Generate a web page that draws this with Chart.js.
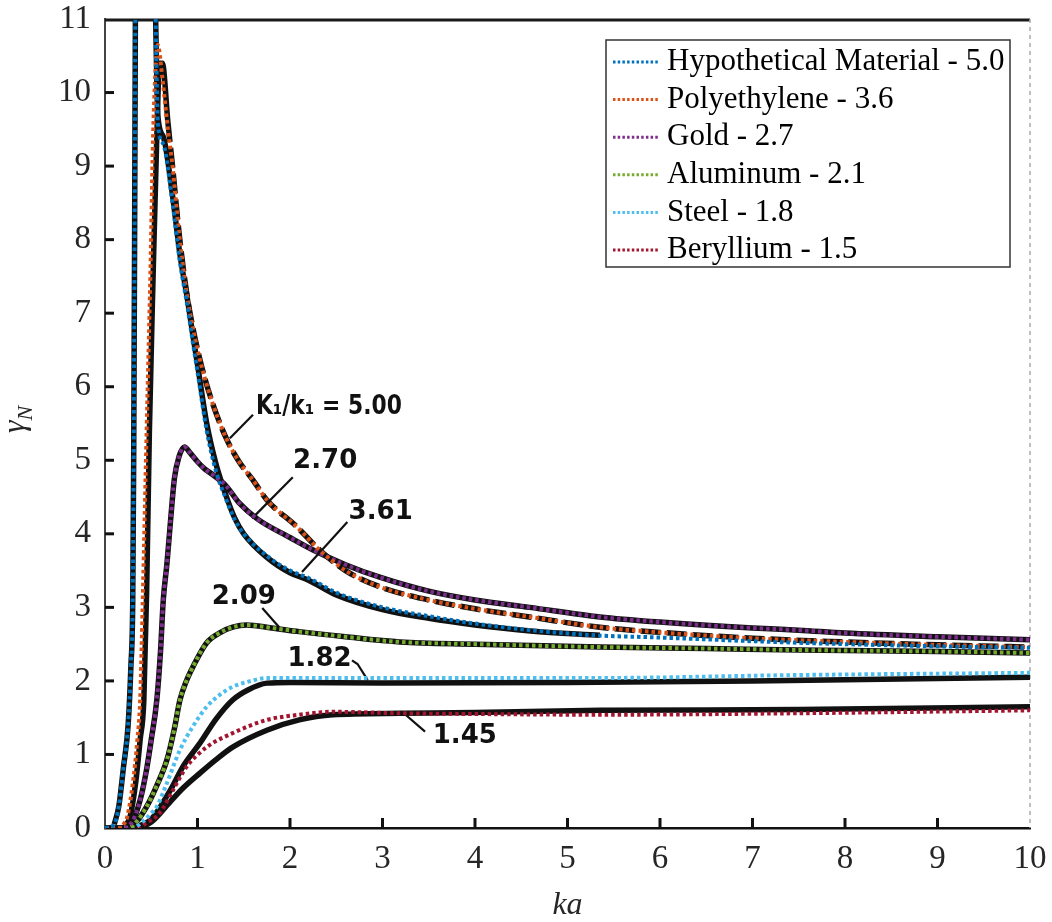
<!DOCTYPE html>
<html>
<head>
<meta charset="utf-8">
<script src="https://cdn.jsdelivr.net/npm/chart.js@4.4.1/dist/chart.umd.min.js"></script>
<style>
  html, body { margin: 0; padding: 0; background: #fff; }
  #wrap { width: 1052px; height: 922px; }
</style>
</head>
<body>
<div id="wrap"><canvas id="gammaChart"></canvas></div>
<script>
// axis ticks
const kaTicks = [0, 1, 2, 3, 4, 5, 6, 7, 8, 9, 10];
const gammaTicks = [0, 1, 2, 3, 4, 5, 6, 7, 8, 9, 10, 11];

// dotted overlay curves (one per material)
const hypoKa    = [0, 0.1, 0.15, 0.2, 0.25, 0.28, 0.3, 0.31, 0.32, 0.33, 0.4, 0.5, 0.54, 0.555, 0.57, 0.63, 0.73, 0.81, 0.89, 0.95, 1.0, 1.1, 1.2, 1.3, 1.4, 1.5, 1.75, 2.0, 2.2, 2.5, 3.0, 3.5, 4.0, 4.6, 5.3, 6, 7, 8, 9, 10];
const hypoGamma = [0, 0.05, 0.3, 0.83, 1.4, 2.2, 3.1, 5.0, 8.0, 11.5, 16, 14, 11.5, 10.5, 9.6, 9.3, 8.5, 7.7, 7.1, 6.6, 6.2, 5.4, 4.85, 4.5, 4.2, 4.0, 3.7, 3.5, 3.4, 3.2, 3.0, 2.88, 2.78, 2.69, 2.62, 2.59, 2.54, 2.5, 2.47, 2.45];

const polyKa    = [0, 0.15, 0.2, 0.24, 0.3, 0.35, 0.38, 0.41, 0.45, 0.49, 0.52, 0.55, 0.57, 0.62, 0.68, 0.73, 0.8, 0.88, 0.95, 1.05, 1.17, 1.31, 1.45, 1.6, 1.75, 2.07, 2.32, 2.6, 2.97, 3.5, 4.0, 4.59, 5.35, 6, 7, 8, 9, 10];
const polyGamma = [0, 0, 0.05, 0.15, 0.6, 1.2, 1.74, 3.2, 5.4, 7.5, 9.4, 10.4, 10.65, 10.2, 9.5, 9.0, 8.1, 7.3, 6.8, 6.25, 5.75, 5.3, 4.98, 4.73, 4.46, 4.1, 3.78, 3.5, 3.28, 3.1, 2.98, 2.87, 2.73, 2.66, 2.58, 2.53, 2.49, 2.46];

const goldKa    = [0, 0.2, 0.3, 0.38, 0.45, 0.5, 0.56, 0.6, 0.63, 0.67, 0.71, 0.75, 0.8, 0.86, 0.92, 1.0, 1.08, 1.17, 1.31, 1.45, 1.65, 2.0, 2.25, 2.6, 2.97, 3.5, 4.0, 4.59, 5.35, 6, 7, 7.5, 8, 9, 10];
const goldGamma = [0, 0, 0.1, 0.38, 0.8, 1.2, 1.74, 2.4, 3.1, 3.6, 4.2, 4.75, 5.05, 5.18, 5.1, 4.98, 4.88, 4.8, 4.65, 4.42, 4.2, 3.95, 3.78, 3.58, 3.41, 3.22, 3.1, 3.0, 2.87, 2.8, 2.72, 2.69, 2.65, 2.6, 2.56];

const alumKa    = [0, 0.25, 0.35, 0.45, 0.55, 0.67, 0.75, 0.81, 0.88, 0.95, 1.1, 1.25, 1.38, 1.53, 1.8, 2.1, 2.6, 3.19, 4, 5.35, 6.5, 7.5, 9, 10];
const alumGamma = [0, 0, 0.1, 0.29, 0.55, 0.93, 1.35, 1.74, 2.0, 2.19, 2.52, 2.66, 2.73, 2.76, 2.72, 2.67, 2.6, 2.53, 2.5, 2.46, 2.44, 2.42, 2.4, 2.38];

const steelKa    = [0, 0.3, 0.4, 0.5, 0.56, 0.65, 0.81, 0.95, 1.1, 1.25, 1.38, 1.55, 1.75, 2.2, 3.19, 5.35, 7.5, 10];
const steelGamma = [0, 0, 0.08, 0.2, 0.29, 0.55, 1.06, 1.38, 1.65, 1.82, 1.92, 1.99, 2.04, 2.04, 2.04, 2.04, 2.08, 2.11];

const beryKa    = [0, 0.35, 0.45, 0.59, 0.75, 0.88, 1.1, 1.38, 1.75, 2.1, 2.46, 3.19, 4, 5.35, 7.5, 10];
const beryGamma = [0, 0, 0.07, 0.2, 0.55, 0.83, 1.1, 1.29, 1.47, 1.54, 1.58, 1.56, 1.55, 1.54, 1.56, 1.6];

// solid black curves of the original plot
const scanHypoKa    = [0.1, 0.15, 0.2, 0.25, 0.28, 0.3, 0.31, 0.32, 0.33, 0.4, 0.5, 0.54, 0.555, 0.57, 0.63, 0.73, 0.81, 0.89, 0.95, 1.0, 1.1, 1.2, 1.3, 1.4, 1.5, 1.75, 2.0, 2.2, 2.5, 3.0, 3.5, 4.0, 4.6, 5.35];
const scanHypoGamma = [0.05, 0.3, 0.83, 1.4, 2.2, 3.1, 5.0, 8.0, 11.5, 16, 14, 11.5, 10.5, 9.7, 9.4, 8.6, 7.8, 7.2, 6.7, 6.3, 5.5, 4.95, 4.55, 4.22, 4.0, 3.68, 3.47, 3.37, 3.17, 2.97, 2.85, 2.76, 2.68, 2.62];

const scanPolyKa    = [0.2, 0.27, 0.33, 0.38, 0.42, 0.45, 0.48, 0.52, 0.56, 0.59, 0.62, 0.68, 0.73, 0.8, 0.88, 0.95, 1.05, 1.17, 1.31, 1.45, 1.6, 1.75, 2.07, 2.32, 2.6, 2.97, 3.5, 4.0, 4.59, 5.35, 6, 7, 8, 9, 10];
const scanPolyGamma = [0, 0.15, 0.6, 1.2, 1.74, 3.2, 5.4, 7.5, 9.4, 10.4, 10.4, 9.6, 9.0, 8.1, 7.3, 6.8, 6.25, 5.75, 5.3, 4.98, 4.73, 4.46, 4.1, 3.78, 3.5, 3.28, 3.1, 2.98, 2.87, 2.73, 2.66, 2.58, 2.53, 2.49, 2.46];

const scanSteelKa    = [0.3, 0.5, 0.7, 0.85, 1.03, 1.2, 1.38, 1.55, 1.75, 2.0, 3, 5, 7, 10];
const scanSteelGamma = [0, 0.12, 0.5, 0.85, 1.16, 1.48, 1.74, 1.88, 1.97, 1.98, 1.97, 1.98, 2.0, 2.05];

const scanBeryKa    = [0.35, 0.5, 0.7, 0.85, 1.03, 1.2, 1.38, 1.75, 2.1, 2.46, 3.19, 4, 5.35, 7.5, 10];
const scanBeryGamma = [0, 0.08, 0.35, 0.55, 0.75, 0.93, 1.1, 1.33, 1.47, 1.54, 1.56, 1.57, 1.6, 1.61, 1.65];

// curve labels of the original plot and their leader lines
const noteText  = ['K\u2081/k\u2081 = 5.00', '2.70', '3.61', '2.09', '1.82', '1.45'];
const noteKa    = [2.42, 2.38, 2.98, 1.50, 2.32, 3.89];
const noteGamma = [5.72, 4.99, 4.30, 3.14, 2.30, 1.25];
const leaderKa    = [[1.60, 1.35], [2.03, 1.59], [2.62, 2.13], [1.70, 1.89], [2.67, 2.73, 2.84], [3.46, 3.24]];
const leaderGamma = [[5.62, 5.30], [4.77, 4.21], [4.16, 3.48], [2.99, 2.72], [2.28, 2.23, 2.01], [1.31, 1.55]];

const materials = ['Hypothetical Material - 5.0', 'Polyethylene - 3.6', 'Gold - 2.7', 'Aluminum - 2.1', 'Steel - 1.8', 'Beryllium - 1.5'];
const colors = ['#0072BD', '#D95319', '#7E2F8E', '#77AC30', '#4DBEEE', '#A2142F'];

const pts = (xs, ys) => xs.map((v, i) => ({ x: v, y: ys[i] }));

const overlay = [
  [hypoKa, hypoGamma], [polyKa, polyGamma], [goldKa, goldGamma],
  [alumKa, alumGamma], [steelKa, steelGamma], [beryKa, beryGamma]
];

const datasets = overlay.map(([xs, ys], i) => ({
  label: materials[i],
  data: pts(xs, ys),
  borderColor: colors[i],
  backgroundColor: colors[i],
  borderWidth: 4,
  borderDash: [3.5, 3],
  pointRadius: 0,
  cubicInterpolationMode: 'monotone',
  order: 0
}));

const scanCurves = [
  [scanHypoKa, scanHypoGamma], [scanPolyKa, scanPolyGamma], [goldKa, goldGamma],
  [alumKa, alumGamma], [scanSteelKa, scanSteelGamma], [scanBeryKa, scanBeryGamma]
];
scanCurves.forEach(([xs, ys], i) => {
  datasets.push({
    label: '',
    scan: true,
    data: pts(xs, ys),
    borderColor: '#111',
    borderWidth: 5.5,
    pointRadius: 0,
    cubicInterpolationMode: 'monotone',
    // the 5.00 curve is dashed after its peak
    segment: i === 1 ? { borderDash: c => c.p0.parsed.x > 0.62 ? [20, 6] : undefined } : undefined,
    order: 1
  });
});
leaderKa.forEach((xs, i) => {
  datasets.push({
    label: '',
    scan: true,
    data: pts(xs, leaderGamma[i]),
    borderColor: '#111',
    borderWidth: 2.2,
    pointRadius: 0,
    tension: 0,
    order: 1
  });
});

const serif = '"Liberation Serif", "Times New Roman", serif';

const scanDecor = {
  id: 'scanDecor',
  beforeDatasetsDraw(chart) {
    const { ctx, chartArea: a, scales: { x, y } } = chart;
    ctx.save();
    // top and right frame
    ctx.strokeStyle = '#1a1a1a';
    ctx.lineWidth = 3;
    ctx.beginPath(); ctx.moveTo(a.left, a.top + 1); ctx.lineTo(a.right, a.top + 1); ctx.stroke();
    ctx.strokeStyle = '#aaa';
    ctx.lineWidth = 1.5;
    ctx.setLineDash([4, 4]);
    ctx.beginPath(); ctx.moveTo(a.right, a.top); ctx.lineTo(a.right, a.bottom); ctx.stroke();
    ctx.setLineDash([]);
    // inward ticks
    ctx.strokeStyle = '#111';
    ctx.lineWidth = 3;
    kaTicks.slice(1, -1).forEach(v => {
      const px = x.getPixelForValue(v);
      ctx.beginPath(); ctx.moveTo(px, a.bottom); ctx.lineTo(px, a.bottom - 10); ctx.stroke();
    });
    gammaTicks.slice(1, -1).forEach(v => {
      const py = y.getPixelForValue(v);
      ctx.beginPath(); ctx.moveTo(a.left, py); ctx.lineTo(a.left + 9, py); ctx.stroke();
    });
    ctx.restore();
  },
  afterDatasetsDraw(chart) {
    const { ctx, scales: { x, y } } = chart;
    ctx.fillStyle = '#111';
    ctx.textAlign = 'center';
    ctx.textBaseline = 'middle';
    ctx.font = 'bold 26px "DejaVu Sans"';
    noteText.forEach((t, i) => {
      ctx.save();
      ctx.translate(x.getPixelForValue(noteKa[i]), y.getPixelForValue(noteGamma[i]));
      // the ratio label is set in narrower lettering
      if (i === 0) ctx.scale(0.84, 1);
      ctx.fillText(t, 0, 0);
      ctx.restore();
    });
  },
  afterDraw(chart) {
    const { ctx, chartArea: a } = chart;
    ctx.save();
    // legend
    const left = a.right - 424, top = a.top + 21, w = 404, h = 227, rowH = 37.6;
    ctx.fillStyle = '#fff';
    ctx.fillRect(left, top, w, h);
    ctx.strokeStyle = '#333';
    ctx.lineWidth = 1.5;
    ctx.strokeRect(left, top, w, h);
    ctx.font = '31px ' + serif;
    ctx.textBaseline = 'middle';
    ctx.textAlign = 'left';
    chart.data.datasets.filter(d => !d.scan).forEach((d, i) => {
      const cy = top + 22 + i * rowH;
      ctx.strokeStyle = d.borderColor;
      ctx.lineWidth = 3;
      ctx.setLineDash([2.5, 2.2]);
      ctx.beginPath(); ctx.moveTo(left + 7, cy); ctx.lineTo(left + 54, cy); ctx.stroke();
      ctx.setLineDash([]);
      ctx.fillStyle = '#000';
      ctx.fillText(d.label, left + 61, cy);
    });
    // y axis title
    ctx.translate(24, 433);
    ctx.rotate(-Math.PI / 2);
    ctx.fillStyle = '#262626';
    ctx.textBaseline = 'alphabetic';
    ctx.font = 'italic 32px ' + serif;
    ctx.fillText('\u03b3', 0, 0);
    const gw = ctx.measureText('\u03b3').width;
    ctx.font = 'italic 22px ' + serif;
    ctx.fillText('N', gw, 8);
    ctx.restore();
  }
};

new Chart(document.getElementById('gammaChart'), {
  type: 'line',
  data: { datasets },
  options: {
    responsive: true,
    maintainAspectRatio: false,
    animation: false,
    layout: { padding: { top: 19, right: 22, left: 0, bottom: 0 } },
    plugins: { legend: { display: false }, tooltip: { enabled: false } },
    scales: {
      x: {
        type: 'linear',
        min: kaTicks[0],
        max: kaTicks[kaTicks.length - 1],
        afterBuildTicks: s => { s.ticks = kaTicks.map(v => ({ value: v })); },
        afterFit: s => { s.height = 94; s.paddingLeft = 0; s.paddingRight = 0; },
        grid: { display: false, drawTicks: false },
        border: { display: true, color: '#111', width: 2.5 },
        ticks: { color: '#262626', font: { family: serif, size: 33 }, padding: 12 },
        title: { display: true, text: 'ka', color: '#262626', padding: { top: 0, bottom: 0 },
                 font: { family: serif, size: 32, style: 'italic', lineHeight: 1 } }
      },
      y: {
        min: gammaTicks[0],
        max: gammaTicks[gammaTicks.length - 1],
        afterBuildTicks: s => { s.ticks = gammaTicks.map(v => ({ value: v })); },
        afterFit: s => { s.width = 105; s.paddingTop = 0; s.paddingBottom = 0; },
        grid: { display: false, drawTicks: false },
        border: { display: true, color: '#444', width: 2 },
        ticks: { color: '#262626', font: { family: serif, size: 33 }, padding: 14 }
      }
    }
  },
  plugins: [scanDecor]
});
</script>
</body>
</html>
